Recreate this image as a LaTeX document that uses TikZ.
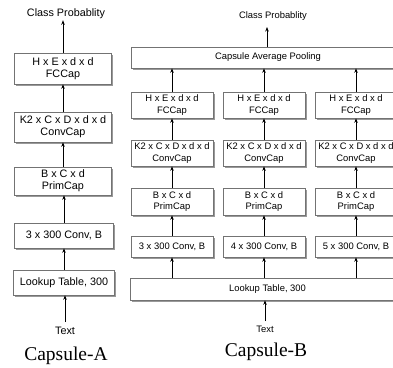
\documentclass[tikz,border=0pt]{standalone}
\usepackage{fontspec}
\setmainfont{Liberation Sans}
\newfontfamily\capfont{Liberation Serif}
\usetikzlibrary{arrows.meta,shadows}
\tikzset{
  box/.style={draw=black!55, line width=0.6pt, fill=white, align=center, inner sep=0pt,
    drop shadow={shadow xshift=1.6pt, shadow yshift=-1.6pt, fill=black!40, opacity=1}},
  boxA/.style={box, font=\fontsize{10.8}{12}\selectfont},
  boxB/.style={box, font=\fontsize{9.4}{11.5}\selectfont},
  arr/.style={-{Stealth[length=4.5pt,width=3.5pt]}, line width=0.7pt, black},
  lblA/.style={font=\fontsize{10.8}{12}\selectfont, inner sep=1pt},
  lblB/.style={font=\fontsize{9.4}{11}\selectfont, inner sep=1pt},
  title/.style={font=\capfont\fontsize{19.5}{22}\selectfont, inner sep=0pt}
}
\begin{document}
\begin{tikzpicture}[x=1pt,y=-1pt]
\useasboundingbox (0,0) rectangle (393,367);
\begin{scope}
\clip (0,0) rectangle (393,367);
% ---------- Capsule-A ----------
\node[lblA] (cpa) at (66,14) {Class Probablity};
\node[boxA, minimum width=97pt, minimum height=31pt] (fca) at (63,68.5) {H x E x d x d\\FCCap};
\node[boxA, minimum width=97pt, minimum height=30pt] (cca) at (63,127) {K2 x C x D x d x d\\ConvCap};
\node[boxA, minimum width=97pt, minimum height=28pt] (pca) at (63,181) {B x C x d\\PrimCap};
\node[boxA, minimum width=99pt, minimum height=25pt] (cva) at (64,235.5) {3 x 300 Conv, B};
\node[boxA, minimum width=101pt, minimum height=25pt] (lka) at (64,282.5) {Lookup Table, 300};
\node[lblA, anchor=north, outer sep=4pt] (txa) at (65,322) {Text};
\node[title] (tia) at (66,356) {Capsule-A};
\draw[arr] (txa.north) -- (lka.south -| txa.north);
\draw[arr] (lka.north -| cva.south) -- (cva.south);
\draw[arr] (cva.north) -- (pca.south -| cva.north);
\draw[arr] (pca.north) -- (cca.south -| pca.north);
\draw[arr] (cca.north) -- (fca.south -| cca.north);
\draw[arr] (fca.north) -- (fca.north |- cpa.south);
% ---------- Capsule-B ----------
\node[lblB] (cpb) at (273,16) {Class Probablity};
\node[boxB, minimum width=274pt, minimum height=21pt] (cap) at (268,57.5) {Capsule Average Pooling};
\foreach \i/\x/\k in {1/172/3,2/264/4,3/356/5}{
  \node[boxB, minimum width=82pt, minimum height=26pt] (fc\i) at (\x,105) {H x E x d x d\\FCCap};
  \node[boxB, minimum width=82pt, minimum height=26pt] (cc\i) at (\x,153) {K2 x C x D x d x d\\ConvCap};
  \node[boxB, minimum width=82pt, minimum height=27pt] (pc\i) at (\x,201.5) {B x C x d\\PrimCap};
  \node[boxB, minimum width=82pt, minimum height=21pt] (cv\i) at (\x,246.5) {\k\ x 300 Conv, B};
}
\node[boxB, minimum width=275pt, minimum height=22pt] (lkb) at (267.5,289) {Lookup Table, 300};
\node[lblB, anchor=north, outer sep=4pt] (txb) at (265,321) {Text};
\node[title] (tib) at (266,352) {Capsule-B};
\draw[arr] (txb.north) -- (lkb.south -| txb.north);
\foreach \i in {1,2,3}{
  \draw[arr] (lkb.north -| cv\i.south) -- (cv\i.south);
  \draw[arr] (cv\i.north) -- (pc\i.south);
  \draw[arr] (pc\i.north) -- (cc\i.south);
  \draw[arr] (cc\i.north) -- (fc\i.south);
  \draw[arr] (fc\i.north) -- (cap.south -| fc\i.north);
}
\coordinate (cpbtop) at (267,27);
\draw[arr] (cap.north -| cpbtop) -- (cpbtop);
\end{scope}
\end{tikzpicture}
\end{document}
